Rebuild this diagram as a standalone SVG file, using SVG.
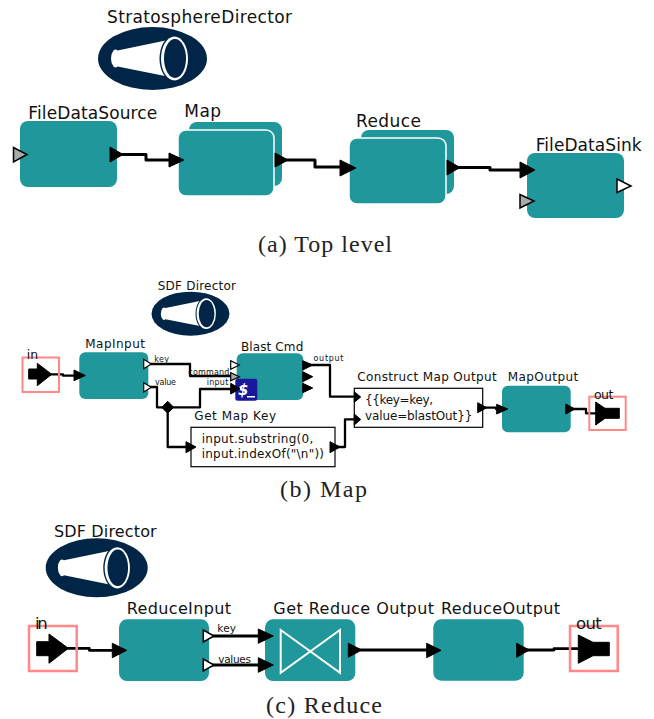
<svg xmlns="http://www.w3.org/2000/svg" width="654" height="719" viewBox="0 0 654 719">
<style>
text{font-family:"DejaVu Sans","Liberation Sans",sans-serif;fill:#111}
.cap{font-family:"Liberation Serif",serif;font-size:24px;fill:#222}
.actor{fill:#1f979b}
.front{stroke:#fff;stroke-width:1.5}
.wire{fill:none;stroke:#000;stroke-linejoin:round}
.k{fill:#000;stroke:#000;stroke-width:1;stroke-linejoin:round}
.w{fill:#fff;stroke:#000;stroke-width:1.5}
.g{fill:#aaa;stroke:#000;stroke-width:1.5}
.ext{fill:none;stroke:#ff8888;stroke-width:2.5}
.expr{fill:#fff;stroke:#000;stroke-width:1.2}
</style>
<defs>
<g id="director">
<ellipse cx="0" cy="0" rx="54.500" ry="31.500" fill="#012546"/>
<path d="M-35-8L13-18L15 18L-35 8Q-37 10-39 8Q-41.500 5-41.500 0Q-41.500-5-39-8Q-37-10-35-8Z" fill="#fff"/>
<ellipse cx="21.500" cy="0" rx="14.500" ry="23" fill="#012546"/>
<ellipse cx="22" cy="0" rx="13.500" ry="22" fill="#fff"/>
<ellipse cx="22.500" cy="0" rx="11" ry="19.500" fill="#012546"/>
</g>
</defs>

<g id="connectors">
<g class="wire" stroke-width="3">
<path d="M120 154.500H146V160H172"/>
<path d="M285 160H315V167H342"/>
<path d="M457 167.500H490V170H522"/>
</g>
<g class="wire" stroke-width="2.300">
<path d="M50 374.300H63V375.700H75"/>
<path d="M149 364H190V376H231"/>
<path d="M149 387H157V407.300H200V389H231"/>
<path d="M167.700 407V447H187"/>
<path d="M310 365H330V396.700H355"/>
<path d="M336 447H345V419.300H355"/>
<path d="M484 407.700H496V409H498"/>
<path d="M573 409H586V413.300H597"/>
</g>
<g class="wire" stroke-width="2.800">
<path d="M66 648.300H89.300V650.300H113"/>
<path d="M212 636H259"/>
<path d="M212 665H259"/>
<path d="M359 650H427"/>
<path d="M527 650H554V648.700H580"/>
</g>
<polygon class="k" points="161.700,407.300 167.700,401.300 173.700,407.300 167.700,413.300"/>
</g>

<g id="caption-a"><text class="cap" x="258" y="251.500" textLength="134">(a) Top level</text></g>
<g id="caption-b"><text class="cap" x="280" y="497" textLength="87">(b) Map</text></g>
<g id="caption-c"><text class="cap" x="266" y="712.500" textLength="116">(c) Reduce</text></g>

<!-- Top level -->
<g id="stratosphere-director">
<text x="107" y="22.500" font-size="17" textLength="185">StratosphereDirector</text>
<use href="#director" transform="translate(152.500 58.500)"/>
</g>
<g id="file-data-source">
<text x="28.300" y="119.300" font-size="17" textLength="129">FileDataSource</text>
<rect class="actor" x="20" y="121" width="97" height="66" rx="8"/>
<polygon class="g" points="13.500,147.500 13.500,162 27,154.500"/>
<polygon class="k" points="110,147 110,162 123,154.500"/>
</g>
<g id="map">
<text x="184.300" y="117.300" font-size="17" textLength="36.700">Map</text>
<rect class="actor" x="189" y="122" width="93" height="64" rx="8"/>
<rect class="actor front" x="178" y="130" width="96" height="66" rx="8"/>
<polygon class="k" points="169,153 169,167 184,160"/>
<polygon class="k" points="275,153 275,167 288,160"/>
</g>
<g id="reduce">
<text x="356" y="127.300" font-size="17" textLength="65">Reduce</text>
<rect class="actor" x="361" y="130" width="93" height="64" rx="8"/>
<rect class="actor front" x="349" y="138" width="97" height="66" rx="8"/>
<polygon class="k" points="340,160 340,176 356,168"/>
<polygon class="k" points="447,160 447,175 460,167.500"/>
</g>
<g id="file-data-sink">
<text x="535.700" y="151" font-size="17" textLength="106">FileDataSink</text>
<rect class="actor" x="527" y="153" width="97" height="65" rx="8"/>
<polygon class="k" points="520,162 520,178 535,170"/>
<polygon class="g" points="520,194.500 520,208 534,201"/>
<polygon class="w" points="617,179 617,192.500 631,186"/>
</g>

<!-- Map -->
<g id="sdf-director-b">
<text x="157.700" y="289.500" font-size="12" textLength="78.300">SDF Director</text>
<use href="#director" transform="translate(190.500 313.700) scale(.715 .7)"/>
</g>
<g id="in-b">
<rect class="ext" x="22.500" y="357.500" width="36.500" height="34.500" style="stroke-width:2"/>
<text x="26.700" y="359.300" font-size="12.500">in</text>
<polygon class="k" points="28.700,369 37.300,369 37.300,363.300 51.700,374.300 37.300,385.700 37.300,379 28.700,379"/>
</g>
<g id="map-input">
<text x="85.300" y="348.300" font-size="12" textLength="59.700">MapInput</text>
<rect class="actor" x="79.300" y="352.300" width="69" height="46.700" rx="6"/>
<polygon class="k" points="74,370 74,380.700 85.300,375.500"/>
<polygon class="w" points="143.700,359.300 143.700,368.700 151.300,364" style="stroke-width:1.200"/>
<polygon class="w" points="143.700,382.700 143.700,392 151.300,387.300" style="stroke-width:1.200"/>
<text x="154.300" y="361.700" font-size="8" textLength="14.700">key</text>
<text x="155" y="385" font-size="8" textLength="21">value</text>
</g>
<g id="blast-cmd">
<text x="241" y="351" font-size="12" textLength="62.300">Blast Cmd</text>
<rect class="actor" x="236.700" y="353.300" width="66.600" height="46.700" rx="6"/>
<polygon class="w" points="230.700,360.700 230.700,369.300 239.300,365" style="stroke-width:1.200"/>
<polygon class="g" points="230.700,372.700 230.700,380.700 239.300,376.700" style="stroke-width:1.200"/>
<rect x="235.300" y="378.700" width="22" height="22" rx="2.500" fill="#18189a"/>
<text x="238" y="395" font-size="15" font-weight="bold" font-style="italic" style="fill:#fff">$</text>
<rect x="247" y="396" width="8" height="1.500" fill="#fff"/>
<polygon class="k" points="230.700,383.300 230.700,394 240,388.700"/>
<polygon class="k" points="302.700,360.700 302.700,370 312.700,365"/>
<polygon class="k" points="302.700,371.700 302.700,381.700 312.700,376.700"/>
<polygon class="k" points="302.700,383.300 302.700,392.700 312.700,388"/>
<text x="188.300" y="375" font-size="8" textLength="41">command</text>
<text x="206.700" y="385" font-size="8" textLength="21.600">input</text>
<text x="313.500" y="361" font-size="8" textLength="30">output</text>
</g>
<g id="get-map-key">
<text x="194.300" y="420" font-size="12" textLength="81.700">Get Map Key</text>
<rect class="expr" x="191" y="427.300" width="144" height="39.400"/>
<text x="201.700" y="443.300" font-size="12" textLength="111.600">input.substring(0,</text>
<text x="201.700" y="458.300" font-size="12" textLength="122.300">input.indexOf("\n"))</text>
<polygon class="k" points="186,441.700 186,452.700 196,447"/>
<polygon class="k" points="330,441.700 330,452.700 340,447"/>
</g>
<g id="construct-map-output">
<text x="357.300" y="381" font-size="12" textLength="139.400">Construct Map Output</text>
<rect class="expr" x="354.300" y="388.300" width="128.400" height="39"/>
<text x="365" y="404" font-size="12" textLength="68">{{key=key,</text>
<text x="365" y="420" font-size="12" textLength="107.300">value=blastOut}}</text>
<polygon class="k" points="354.300,391.700 354.300,402.300 360.700,397"/>
<polygon class="k" points="354.300,414 354.300,425 360.700,419.500"/>
<polygon class="k" points="477.700,402.700 477.700,412.700 486.700,407.700"/>
</g>
<g id="map-output">
<text x="507.700" y="381.300" font-size="12" textLength="70.600">MapOutput</text>
<rect class="actor" x="502" y="385.700" width="68.700" height="46.600" rx="6"/>
<polygon class="k" points="496.700,404.300 496.700,414 507.700,409"/>
<polygon class="k" points="565.700,404 565.700,414 575,409"/>
</g>
<g id="out-b">
<rect class="ext" x="589.300" y="396.700" width="36.400" height="33.300" style="stroke-width:2"/>
<text x="594" y="398.700" font-size="12.500" textLength="19.300">out</text>
<polygon class="k" points="595.700,402 605,408.300 619.300,408.300 619.300,418.300 605,418.300 595.700,425"/>
</g>

<!-- Reduce -->
<g id="sdf-director-c">
<text x="54" y="536.700" font-size="16" textLength="102.700">SDF Director</text>
<use href="#director" transform="translate(96.700 567.800) scale(.936)"/>
</g>
<g id="in-c">
<rect class="ext" x="29" y="626" width="47.700" height="45"/>
<text x="35" y="629" font-size="16.500" textLength="12.700">in</text>
<polygon class="k" points="36.700,641.700 49,641.700 49,634 68.300,648.300 49,663.300 49,655.700 36.700,655.700"/>
</g>
<g id="reduce-input">
<text x="126.700" y="614.300" font-size="16" textLength="104.300">ReduceInput</text>
<rect class="actor" x="119" y="619.300" width="90" height="61.700" rx="8"/>
<polygon class="k" points="112.300,643.300 112.300,657.700 126.700,650.300"/>
<polygon class="w" points="203.300,630 203.300,642 214,636"/>
<polygon class="w" points="203.300,659 203.300,671 214,665"/>
<text x="217.300" y="631.700" font-size="10.500" textLength="18.700">key</text>
<text x="218.300" y="663.300" font-size="10.500" textLength="32.700">values</text>
</g>
<g id="get-reduce-output">
<text x="273.300" y="614" font-size="16" textLength="160.700">Get Reduce Output</text>
<rect class="actor" x="265" y="619.300" width="90.300" height="61.700" rx="8"/>
<polygon points="280.700,630 340,672.700 340,630 280.700,672.700" fill="none" stroke="#fff" stroke-width="2"/>
<polygon class="k" points="258.300,629 258.300,643.300 273.300,636"/>
<polygon class="k" points="258.300,657.700 258.300,672.300 273.300,665"/>
<polygon class="k" points="348.300,643.300 348.300,657.300 361.700,650"/>
</g>
<g id="reduce-output">
<text x="441" y="614" font-size="16" textLength="119">ReduceOutput</text>
<rect class="actor" x="433.300" y="619.300" width="90.400" height="61.400" rx="8"/>
<polygon class="k" points="426.700,643.300 426.700,657.700 441,650.300"/>
<polygon class="k" points="516.700,643.300 516.700,657.300 529.300,650"/>
</g>
<g id="out-c">
<rect class="ext" x="570" y="626" width="47.700" height="45"/>
<text x="576" y="629.300" font-size="16.500" textLength="25.700">out</text>
<polygon class="k" points="578.300,635 593,642.300 609.300,642.300 609.300,655.700 593,655.700 578.300,663.300"/>
</g>
</svg>
